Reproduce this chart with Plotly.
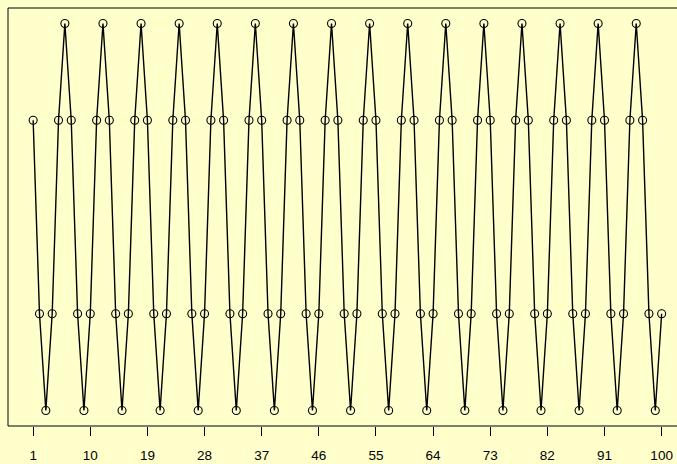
import plotly.graph_objects as go

x_vals = list(range(1, 101))
y_vals = [
    0.5, -0.5, -1, -0.5, 0.5, 1,
    0.5, -0.5, -1, -0.5, 0.5, 1,
    0.5, -0.5, -1, -0.5, 0.5, 1,
    0.5, -0.5, -1, -0.5, 0.5, 1,
    0.5, -0.5, -1, -0.5, 0.5, 1,
    0.5, -0.5, -1, -0.5, 0.5, 1,
    0.5, -0.5, -1, -0.5, 0.5, 1,
    0.5, -0.5, -1, -0.5, 0.5, 1,
    0.5, -0.5, -1, -0.5, 0.5, 1,
    0.5, -0.5, -1, -0.5, 0.5, 1,
    0.5, -0.5, -1, -0.5, 0.5, 1,
    0.5, -0.5, -1, -0.5, 0.5, 1,
    0.5, -0.5, -1, -0.5, 0.5, 1,
    0.5, -0.5, -1, -0.5, 0.5, 1,
    0.5, -0.5, -1, -0.5, 0.5, 1,
    0.5, -0.5, -1, -0.5, 0.5, 1,
    0.5, -0.5, -1, -0.5,
]
tick_vals = [1, 10, 19, 28, 37, 46, 55, 64, 73, 82, 91, 100]
tick_text = [str(v) for v in tick_vals]

bg = "#FFFFCC"

fig = go.Figure()
fig.add_trace(go.Scatter(
    x=x_vals, y=y_vals, mode="lines+markers",
    line=dict(color="black", width=1.4),
    marker=dict(symbol="circle-open", size=8, color="black", line=dict(width=1.1)),
    showlegend=False, hoverinfo="skip",
))

fig.add_shape(type="rect", xref="paper", yref="paper", x0=0, x1=1.05, y0=0, y1=1,
              line=dict(color="black", width=1), fillcolor="rgba(0,0,0,0)", layer="above")

fig.update_layout(
    width=677, height=464,
    margin=dict(l=8, r=0, t=8, b=38),
    paper_bgcolor=bg, plot_bgcolor=bg,
    font=dict(family="Liberation Sans, Arial, sans-serif", size=13.5, color="black"),
    xaxis=dict(range=[-2.96, 102.42], tickmode="array", tickvals=tick_vals, ticktext=tick_text,
               ticks="outside", ticklen=9, tickwidth=1, tickcolor="black",
               showgrid=False, zeroline=False, showline=False, ticklabelstandoff=8),
    yaxis=dict(range=[-1.08, 1.08], showticklabels=False, ticks="", showgrid=False,
               zeroline=False, showline=False),
)

fig.write_html(
    "out.html",
    config={"displayModeBar": False},
    post_script="document.body.style.margin='0';document.body.style.padding='0';"
                "document.body.style.background='#FFFFCC';document.body.style.overflow='hidden';",
)
